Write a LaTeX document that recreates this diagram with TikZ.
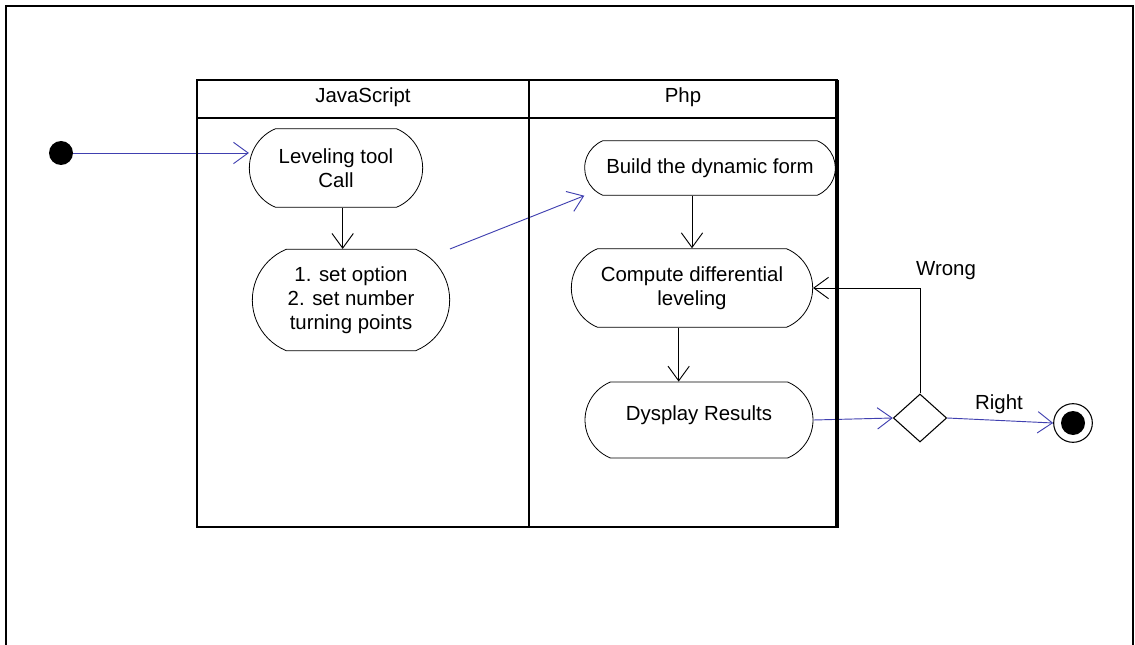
\documentclass[tikz,border=0pt]{standalone}
\usepackage{fontspec}
\setmainfont{Liberation Sans}
\usetikzlibrary{positioning}
\usetikzlibrary{shapes.misc}
\usetikzlibrary{shapes.geometric}
\usetikzlibrary{arrows.meta}
\definecolor{flowblue}{RGB}{64,64,176}

\begin{document}
\begin{tikzpicture}
    [
    x=0.75pt, y=-0.75pt,
    every node/.style={font=\fontsize{15.3}{18}\selectfont},
    activity/.style={rounded rectangle, rounded rectangle arc length=135, draw, line width=0.6pt, align=center, inner sep=0pt},
    start/.style={circle, fill=black, inner sep=0pt, minimum size=18pt},
    stop/.style={circle, draw, line width=0.8pt, fill=white, inner sep=0pt, minimum size=29pt,
      path picture={\fill [black] (path picture bounding box.center) circle (9pt);}},
    decision/.style={diamond, draw, line width=0.8pt, inner sep=0pt, minimum width=40pt, minimum height=36pt},
    flow/.style={draw=flowblue, line width=0.7pt, -{Straight Barb[length=11pt,width=16pt]}},
    ctrl/.style={draw=black, line width=0.7pt, -{Straight Barb[length=11pt,width=16pt]}},
    lane/.style={line width=1.5pt},
    ]
    \useasboundingbox (0,0) rectangle (1135,645);

    \node (init) at (61,153) [start] {};
    \node (lev) at (336,168) [activity, minimum width=130pt, minimum height=59pt] {Leveling tool\\Call};
    \node (opt) at (351,300) [activity, minimum width=148pt, minimum height=76pt] {1. set option\\2. set number\\turning points};
    \node (build) at (710,168) [activity, minimum width=188pt, minimum height=41pt] {Build the dynamic form};
    \node (comp) at (692,288) [activity, minimum width=181pt, minimum height=59pt] {Compute differential\\leveling};
    \node (disp) at (699,420) [activity, minimum width=171pt, minimum height=57pt, text depth=11pt] {Dysplay Results};
    \node (dec) at (920,418) [decision] {};
    \node (stop) at (1073,423) [stop] {};

    \coordinate (l1) at ([xshift=5pt]lev.south);
    \coordinate (c1) at ([xshift=-10pt]comp.south);

    \draw [flow] (init) to (init -| lev.west);
    \draw [ctrl] (l1) to (l1 |- opt.north);
    \draw [flow] (opt.east |- opt.north) to (build.west |- build.south);
    \draw [ctrl] (comp.north |- build.south) to (comp.north);
    \draw [ctrl] (c1) to (c1 |- disp.north);
    \draw [flow] (disp.east) to (dec.west);
    \draw [flow] (dec.east) to (stop.west);
    \draw [ctrl] (dec.north) |- (comp.east);

    \node (wrong) at (946,271) {Wrong};
    \node (right) at (999,404) {Right};

    % frame and swimlanes
    \draw [lane] (6,645) -- (6,6) -- (1133,6) -- (1133,645);
    \draw [lane] (197,80) rectangle (837,527);
    \draw [lane] (197,118) -- (837,118);
    \draw [lane] (529,80) -- (529,527);
    \draw [line width=2.5pt] (837,80) -- (837,528);
    \node (jshead) at (363,97) {JavaScript};
    \node (phphead) at (683,97) {Php};
  \end{tikzpicture}
\end{document}
